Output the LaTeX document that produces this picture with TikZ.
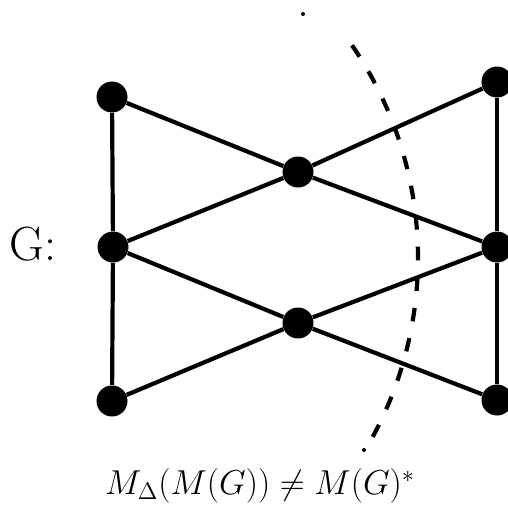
\documentclass[tikz,border=0pt]{standalone}
\begin{document}
\begin{tikzpicture}[x=0.5pt,y=-0.5pt,
  vtx/.style={circle,fill=black,inner sep=0pt,minimum size=15.5pt},
  edge/.style={line width=2.1pt},
  cut/.style={line width=2.1pt,dash pattern=on 6.8pt off 8.54pt},
  speck/.style={fill=black}]
\useasboundingbox (0,0) rectangle (508,530);
\clip (0,0) rectangle (508,530);
\node[vtx] (lt) at (112,97) {};
\node[vtx] (lm) at (113,247) {};
\node[vtx] (lb) at (112,401) {};
\node[vtx] (mt) at (298,172) {};
\node[vtx] (mb) at (298,323) {};
\node[vtx] (rt) at (497,82) {};
\node[vtx] (rm) at (497,247) {};
\node[vtx] (rb) at (497,400) {};
\draw[edge] (lt) -- (lm) -- (lb);
\draw[edge] (rt) -- (rm) -- (rb);
\draw[edge] (lt) -- (mt) -- (rm);
\draw[edge] (lm) -- (mt) -- (rt);
\draw[edge] (lm) -- (mb) -- (rb);
\draw[edge] (lb) -- (mb) -- (rm);
\draw[cut] plot[domain=-28.4:34.5,samples=80] ({42+376*cos(\x)},{258-376*sin(\x)});
\fill[speck] (303,14) circle (1pt);
\fill[speck] (364,450) circle (1pt);
\node[font=\fontsize{24}{26}\selectfont] (g) at (33,244) {G:};
\node[font=\fontsize{17.8}{20}\selectfont] (f) at (260,486) {$M_\Delta(M(G))\neq M(G)^*$};
\end{tikzpicture}
\end{document}
